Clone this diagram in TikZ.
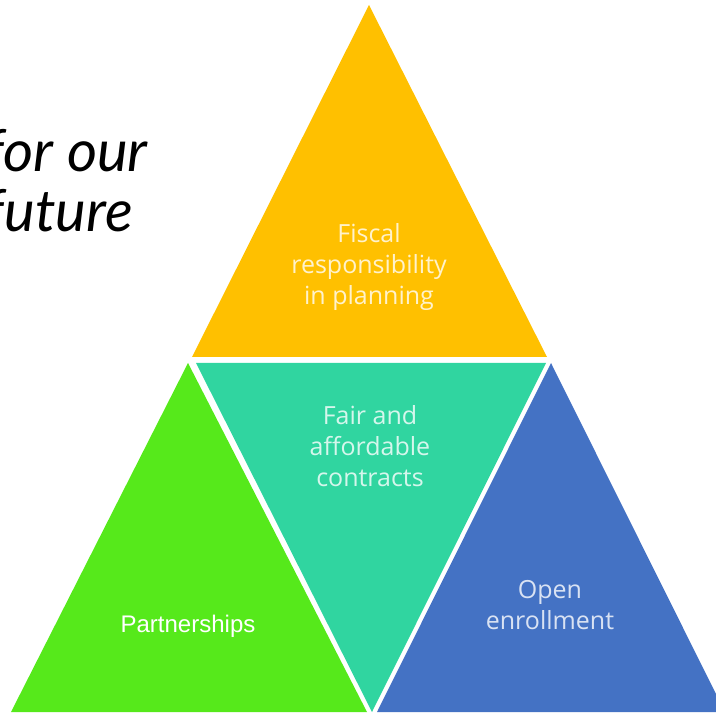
\documentclass[tikz,border=0pt]{standalone}
\usepackage{fontspec}
\setmainfont{Open Sans}
\newfontfamily\arialfont{Liberation Sans}
\newfontfamily\titlefont{Lato}
\definecolor{fiscalyellow}{HTML}{FFC000}
\definecolor{contractteal}{HTML}{30D5A0}
\definecolor{partnergreen}{HTML}{56E91B}
\definecolor{enrollblue}{HTML}{4472C4}
\begin{document}
\begin{tikzpicture}[x=1pt, y=-1pt,
    tritext/.style={text=white, text opacity=0.8, align=center, font=\fontsize{25}{31}\selectfont},
    titletext/.style={inner sep=0pt, font=\titlefont\itshape\fontsize{58}{60}\selectfont}]
    \useasboundingbox (0,0) rectangle (716,714);
    \clip (0,0) rectangle (716,714);
    % the four triangles
    \fill[fiscalyellow] (369,5) -- (192,357) -- (547,357) -- cycle;
    \fill[contractteal] (196,363) -- (546,363) -- (372,712) -- cycle;
    \fill[partnergreen] (188,363) -- (11,712) -- (367,712) -- cycle;
    \fill[enrollblue] (551,363) -- (377,712) -- (725,712) -- cycle;
    % texts
    \node[tritext] (fiscal) at (369,267) {Fiscal\\responsibility\\in planning};
    \node[tritext] (fair) at (370,446) {Fair and\\affordable\\contracts};
    \node[tritext] (open) at (550,605) {Open\\enrollment};
    \node[text=white, font=\arialfont\fontsize{24}{28}\selectfont] (partner) at (188,626) {Partnerships};
    \node[titletext, anchor=base east] (forour) at (148,172) {for our};
    \node[titletext, anchor=base west] (future) at ([yshift=-60pt]forour.base west) {future};
\end{tikzpicture}
\end{document}
